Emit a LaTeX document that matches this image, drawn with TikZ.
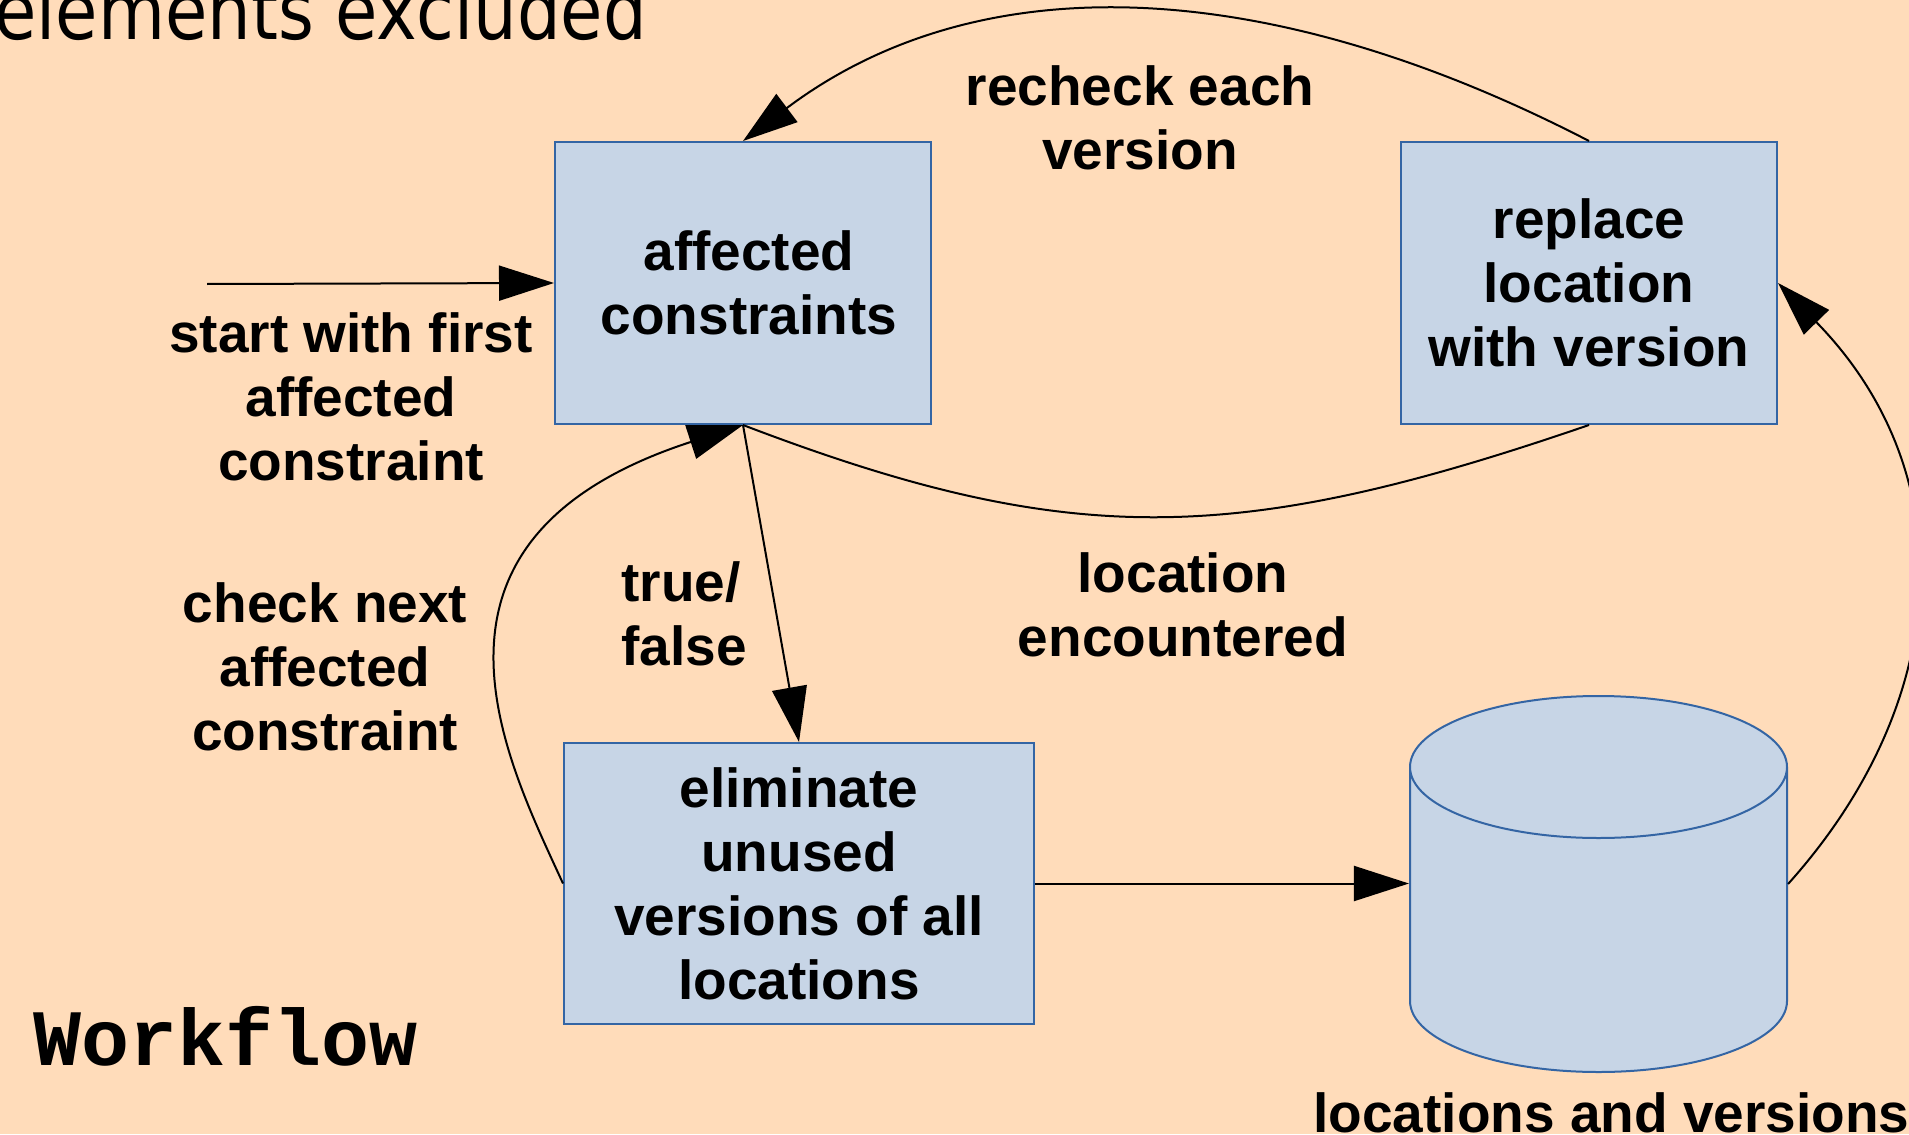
\documentclass[tikz,border=0pt]{standalone}
\usepackage{fontspec}
\setmainfont{Liberation Sans}
\setmonofont{Liberation Mono}
\newfontfamily\cutfont[FakeStretch=0.86]{DejaVu Sans}
\usepackage{xcolor}
\usetikzlibrary{positioning,shapes.geometric,arrows.meta}
\definecolor{paper}{HTML}{FFDCBA}
\definecolor{boxfill}{HTML}{C7D5E6}
\definecolor{boxline}{HTML}{3465A4}
\newcommand\notefont{\fontsize{27.5pt}{32pt}\selectfont\bfseries}

\begin{document}
\begin{tikzpicture}[
		x=0.5pt, y=-0.5pt,
		block/.style={rectangle, draw=boxline, fill=boxfill, line width=1pt, minimum width=188pt, minimum height=141pt, align=center, font=\notefont},
		store/.style={cylinder, shape border rotate=90, draw=boxline, fill=boxfill, line width=1pt, inner sep=10pt, minimum width=188.5pt, minimum height=188pt, aspect=3.55},
		note/.style={align=center, inner sep=0pt, font=\notefont},
		conn/.style={-{Triangle[length=27.5pt, width=17.5pt]}, line width=1pt},
		plain/.style={line width=1pt},
		]
		\useasboundingbox (0,0) rectangle (1909,1134);
		\clip (0,0) rectangle (1909,1134);
		\fill[paper] (0,0) rectangle (1909,1134);

		%Main Nodes
		\node[block]	(affected)	at (743,283)	{\hspace*{6pt}affected\\\hspace*{6pt}constraints};
		\node[block]	(replace)	[right=234pt of affected]	{replace\\location\\with version};
		\node[block, minimum width=235pt, minimum height=140.5pt]	(eliminate)	[below=158.5pt of affected, xshift=28pt]	{eliminate\\unused\\versions of all\\locations};
		\node[store, anchor=shape center]	(db)	at (1598.5,884)	{};
		\coordinate	(entry)	at (207,284);

		%Texts
		\node[note]	(startnote)	at (351,397)	{start with first\\affected\\constraint};
		\node[note]	(checknote)	at (325,667)	{check next\\affected\\constraint};
		\node[note, align=left, anchor=west]	(truenote)	at (621,614)	{true/\\false};
		\node[note]	(locnote)	at (1183,605)	{location\\encountered};
		\node[note]	(rechecknote)	at (1140,118)	{recheck each\\version};
		\node[note, anchor=base west]	(dbnote)	at (1313,1132)	{locations and versions};
		\node[inner sep=0pt, anchor=base, font=\ttfamily\bfseries\fontsize{40pt}{44pt}\selectfont]	(title)	at (226,1065)	{Workflow};
		\node[inner sep=0pt, anchor=base west, font=\cutfont\fontsize{40pt}{48pt}\selectfont]	(excluded)	at (-6,39.5)	{elements excluded};

		%Connectors
		\draw[conn]	(entry) -- (affected.west);
		\draw[conn]	(replace.north) .. controls (1270,-24) and (981,-38) .. (affected.north);
		\draw[plain]	(replace.south) .. controls (1237,546) and (1070,550) .. (affected.south);
		\draw[conn]	(affected.south) -- (eliminate.north);
		\draw[conn]	(eliminate.west) .. controls (506,759) and (392,539) .. (affected.south);
		\draw[conn]	(eliminate.east) -- (eliminate.east -| db.west);
		\draw[conn]	(db.shape center -| db.east) .. controls (1955,698) and (1963,472) .. (replace.east);
	\end{tikzpicture}
\end{document}
